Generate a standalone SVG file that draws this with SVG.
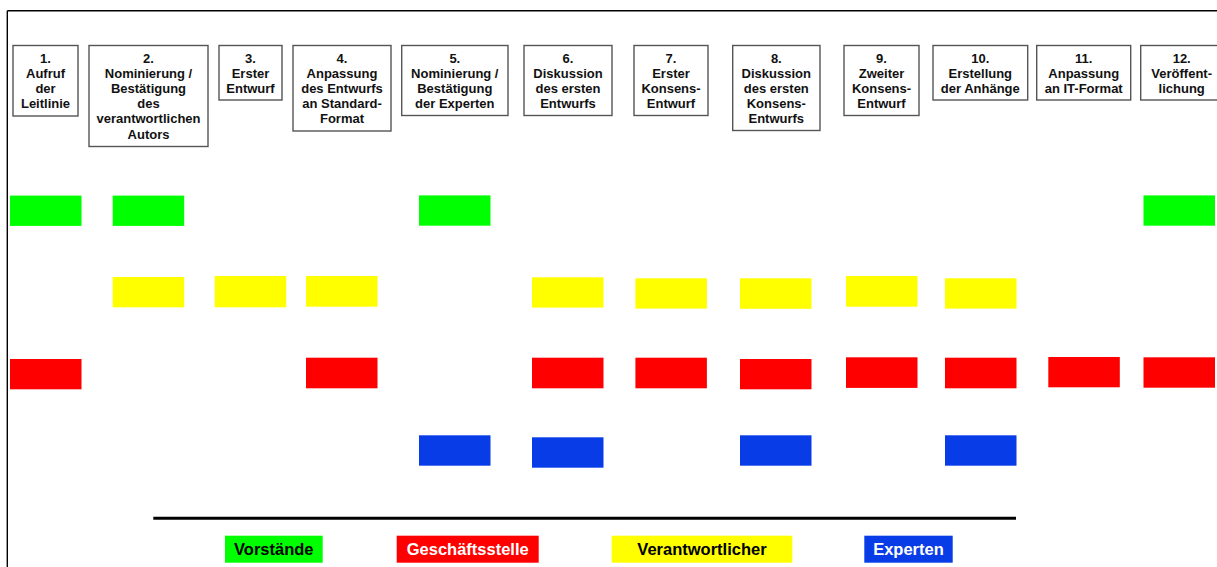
<svg xmlns="http://www.w3.org/2000/svg" width="1217" height="567" viewBox="0 0 1217 567">
<style>
.box{fill:#fff;stroke:#555;stroke-width:1.4}
.t{font-family:"Liberation Sans",Arial,sans-serif;font-weight:bold;font-size:13px;fill:#111;text-anchor:middle}
.lg{font-family:"Liberation Sans",Arial,sans-serif;font-weight:bold;font-size:16.5px;text-anchor:middle}
.g{fill:#00ff00}
.y{fill:#ffff00}
.r{fill:#ff0000}
.b{fill:#083ce6}
</style>
<rect width="1217" height="567" fill="#fff"/>
<g id="frame" stroke="#000" fill="none">
<line x1="7.3" y1="10.7" x2="7.3" y2="567" stroke-width="1.4"/>
<line x1="7.3" y1="10.7" x2="1217" y2="10.7" stroke-width="1.4"/>
<line x1="153.3" y1="518.3" x2="1016" y2="518.3" stroke-width="3"/>
</g>
<g id="connectors"/>
<g id="step1"><rect class="box" x="13" y="45.5" width="65" height="70.5"/>
<text class="t"><tspan x="45.5" y="62.5">1.</tspan><tspan x="45.5" y="77.7">Aufruf</tspan><tspan x="45.5" y="92.9">der</tspan><tspan x="45.5" y="108.1">Leitlinie</tspan></text></g>
<g id="step2"><rect class="box" x="89" y="45.5" width="119" height="101"/>
<text class="t"><tspan x="148.5" y="62.5">2.</tspan><tspan x="148.5" y="77.7">Nominierung /</tspan><tspan x="148.5" y="92.9">Bestätigung</tspan><tspan x="148.5" y="108.1">des</tspan><tspan x="148.5" y="123.3">verantwortlichen</tspan><tspan x="148.5" y="138.5">Autors</tspan></text></g>
<g id="step3"><rect class="box" x="219" y="45.5" width="63" height="54.5"/>
<text class="t"><tspan x="250.5" y="62.5">3.</tspan><tspan x="250.5" y="77.7">Erster</tspan><tspan x="250.5" y="92.9">Entwurf</tspan></text></g>
<g id="step4"><rect class="box" x="293" y="45.5" width="98" height="85.5"/>
<text class="t"><tspan x="342" y="62.5">4.</tspan><tspan x="342" y="77.7">Anpassung</tspan><tspan x="342" y="92.9">des Entwurfs</tspan><tspan x="342" y="108.1">an Standard-</tspan><tspan x="342" y="123.3">Format</tspan></text></g>
<g id="step5"><rect class="box" x="401.7" y="45.5" width="106.3" height="70"/>
<text class="t"><tspan x="454.8" y="62.5">5.</tspan><tspan x="454.8" y="77.7">Nominierung /</tspan><tspan x="454.8" y="92.9">Bestätigung</tspan><tspan x="454.8" y="108.1">der Experten</tspan></text></g>
<g id="step6"><rect class="box" x="524" y="45.5" width="88" height="70"/>
<text class="t"><tspan x="568" y="62.5">6.</tspan><tspan x="568" y="77.7">Diskussion</tspan><tspan x="568" y="92.9">des ersten</tspan><tspan x="568" y="108.1">Entwurfs</tspan></text></g>
<g id="step7"><rect class="box" x="634" y="45.5" width="74" height="70"/>
<text class="t"><tspan x="671" y="62.5">7.</tspan><tspan x="671" y="77.7">Erster</tspan><tspan x="671" y="92.9">Konsens-</tspan><tspan x="671" y="108.1">Entwurf</tspan></text></g>
<g id="step8"><rect class="box" x="732.7" y="45.5" width="87.3" height="85"/>
<text class="t"><tspan x="776.3" y="62.5">8.</tspan><tspan x="776.3" y="77.7">Diskussion</tspan><tspan x="776.3" y="92.9">des ersten</tspan><tspan x="776.3" y="108.1">Konsens-</tspan><tspan x="776.3" y="123.3">Entwurfs</tspan></text></g>
<g id="step9"><rect class="box" x="844" y="45.5" width="75" height="70"/>
<text class="t"><tspan x="881.5" y="62.5">9.</tspan><tspan x="881.5" y="77.7">Zweiter</tspan><tspan x="881.5" y="92.9">Konsens-</tspan><tspan x="881.5" y="108.1">Entwurf</tspan></text></g>
<g id="step10"><rect class="box" x="933" y="45.5" width="94.7" height="54.5"/>
<text class="t"><tspan x="980.3" y="62.5">10.</tspan><tspan x="980.3" y="77.7">Erstellung</tspan><tspan x="980.3" y="92.9">der Anhänge</tspan></text></g>
<g id="step11"><rect class="box" x="1036.7" y="45.5" width="94" height="54.5"/>
<text class="t"><tspan x="1083.7" y="62.5">11.</tspan><tspan x="1083.7" y="77.7">Anpassung</tspan><tspan x="1083.7" y="92.9">an IT-Format</tspan></text></g>
<g id="step12"><rect class="box" x="1140.7" y="45.5" width="82" height="54.5"/>
<text class="t"><tspan x="1181.7" y="62.5">12.</tspan><tspan x="1181.7" y="77.7">Veröffent-</tspan><tspan x="1181.7" y="92.9">lichung</tspan></text></g>
<g id="bars-vorstaende">
<rect class="g" x="10" y="195.6" width="71.5" height="30.3"/>
<rect class="g" x="112.7" y="195.6" width="71.5" height="30.3"/>
<rect class="g" x="419" y="195.4" width="71.5" height="30.3"/>
<rect class="g" x="1143.5" y="195.4" width="71.5" height="30.3"/>
</g>
<g id="bars-verantwortlicher">
<rect class="y" x="112.7" y="277" width="71.5" height="30.3"/>
<rect class="y" x="214.7" y="276" width="71.5" height="31.3"/>
<rect class="y" x="306" y="276" width="71.5" height="30.7"/>
<rect class="y" x="532" y="277.3" width="71.5" height="30.3"/>
<rect class="y" x="635.4" y="278.3" width="71.5" height="30.3"/>
<rect class="y" x="740" y="278.3" width="71.5" height="30.5"/>
<rect class="y" x="846" y="276" width="71.5" height="30.7"/>
<rect class="y" x="945" y="278.3" width="71.5" height="30.3"/>
</g>
<g id="bars-geschaeftsstelle">
<rect class="r" x="10" y="359" width="71.5" height="30.3"/>
<rect class="r" x="306" y="357.7" width="71.5" height="30.6"/>
<rect class="r" x="532" y="357.7" width="71.5" height="30.6"/>
<rect class="r" x="635.4" y="357.7" width="71.5" height="30.6"/>
<rect class="r" x="740" y="359" width="71.5" height="30.3"/>
<rect class="r" x="846" y="357.3" width="71.5" height="30.6"/>
<rect class="r" x="945" y="357.7" width="71.5" height="30.6"/>
<rect class="r" x="1048.3" y="357" width="71.5" height="30.3"/>
<rect class="r" x="1143.5" y="357.3" width="71.5" height="30.4"/>
</g>
<g id="bars-experten">
<rect class="b" x="419" y="435.3" width="71.5" height="30.4"/>
<rect class="b" x="532" y="437.3" width="71.5" height="30.4"/>
<rect class="b" x="740" y="435.3" width="71.5" height="30.4"/>
<rect class="b" x="945" y="435.3" width="71.5" height="30.4"/>
</g>
<g id="legend-vorstaende"><rect class="g" x="225" y="535.7" width="97.7" height="27"/><text class="lg" x="273.8" y="555.3" fill="#000">Vorstände</text></g>
<g id="legend-geschaeftsstelle"><rect class="r" x="396.7" y="535.7" width="142" height="27"/><text class="lg" x="467.7" y="555.3" fill="#fff">Geschäftsstelle</text></g>
<g id="legend-verantwortlicher"><rect class="y" x="611.7" y="535.7" width="180.6" height="27"/><text class="lg" x="702" y="555.3" fill="#000">Verantwortlicher</text></g>
<g id="legend-experten"><rect class="b" x="864.3" y="535.7" width="88.4" height="27"/><text class="lg" x="908.5" y="555.3" fill="#fff">Experten</text></g>
</svg>
